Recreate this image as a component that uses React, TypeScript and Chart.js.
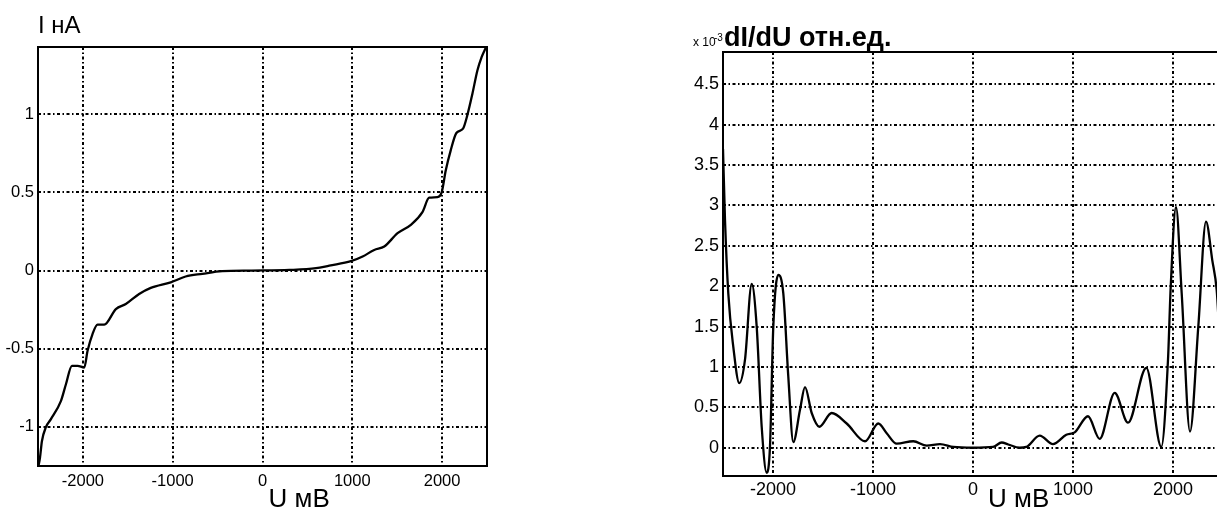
import React, { useEffect, useRef } from 'react';
import { Chart, registerables } from 'chart.js';

Chart.register(...registerables);

// I–V curve (U in mV, I in nA)
const ivU = [-2495, -2478, -2456, -2411, -2356, -2244, -2189, -2122, -2059, -1985, -1948, -1893, -1837, -1763, -1633, -1522, -1374, -1244, -1022, -856, -670, -448, -120, 300, 596, 744, 985, 1115, 1244, 1356, 1504, 1652, 1781, 1856, 1948, 1996, 2041, 2096, 2159, 2233, 2281, 2337, 2393, 2441, 2490];
const ivI = [-1.25, -1.197, -1.09, -1.0, -0.95, -0.833, -0.727, -0.609, -0.609, -0.62, -0.513, -0.406, -0.346, -0.346, -0.246, -0.214, -0.15, -0.111, -0.075, -0.038, -0.021, -0.004, 0, 0.004, 0.015, 0.032, 0.06, 0.09, 0.132, 0.154, 0.239, 0.293, 0.374, 0.466, 0.47, 0.502, 0.641, 0.769, 0.88, 0.908, 0.994, 1.13, 1.28, 1.367, 1.43];

// dI/dU curve (x10^-3, rel. units)
const didvU = [-2500, -2480, -2447, -2397, -2337, -2280, -2213, -2163, -2113, -2063, -2030, -1997, -1947, -1897, -1847, -1797, -1730, -1680, -1613, -1537, -1413, -1263, -1080, -947, -863, -763, -597, -463, -330, -197, 0, 200, 287, 353, 467, 533, 667, 800, 933, 1017, 1150, 1267, 1417, 1550, 1733, 1883, 1950, 1977, 2030, 2087, 2170, 2253, 2330, 2393, 2437, 2470, 2500];
const didvD = [3.7, 2.82, 1.91, 1.25, 0.8, 1.09, 2.03, 1.5, 0.26, -0.31, 0.02, 1.5, 2.14, 1.91, 0.88, 0.07, 0.47, 0.75, 0.43, 0.26, 0.43, 0.3, 0.08, 0.3, 0.18, 0.05, 0.08, 0.025, 0.045, 0.01, 0.0, 0.01, 0.065, 0.04, 0.0, 0.01, 0.15, 0.045, 0.16, 0.19, 0.39, 0.11, 0.68, 0.31, 0.99, 0.01, 1.09, 1.99, 2.98, 1.91, 0.2, 1.5, 2.8, 2.32, 1.95, 1.3, 1.0];

const xTicks = [-2000, -1000, 0, 1000, 2000];
const ivYTicks = [-1, -0.5, 0, 0.5, 1];
const didvYTicks = [0, 0.5, 1, 1.5, 2, 2.5, 3, 3.5, 4, 4.5];

const FONT = "'Liberation Sans', Arial, Helvetica, sans-serif";
const GRID_DASH = [3, 2.5, 1.5, 2.5];

type DrawFn = (ctx: CanvasRenderingContext2D, a: any, chart: any) => void;

interface PanelProps {
  left: number;
  width: number;
  height: number;
  xs: number[];
  ys: number[];
  yMin: number;
  yMax: number;
  yTicks: number[];
  padTop: number;
  padRight: number;
  yWidth: number;
  xHeight: number;
  tickSize: number;
  xTickPad: number;
  yTickPad: number;
  draw: DrawFn;
}

function Panel(p: PanelProps) {
  const ref = useRef<HTMLCanvasElement | null>(null);
  useEffect(() => {
    if (!ref.current) return;
    const points = p.xs.map((x, i) => ({ x, y: p.ys[i] }));
    const decor = {
      id: 'decor',
      afterDraw(chart: any) {
        const { ctx, chartArea: a } = chart;
        ctx.save();
        ctx.strokeStyle = '#000';
        ctx.lineWidth = 2;
        ctx.setLineDash([]);
        ctx.strokeRect(a.left, a.top, a.right - a.left, a.bottom - a.top);
        ctx.fillStyle = '#000';
        ctx.textBaseline = 'alphabetic';
        ctx.textAlign = 'left';
        p.draw(ctx, a, chart);
        ctx.restore();
      },
    };
    const chart = new Chart(ref.current, {
      type: 'line',
      data: {
        datasets: [
          {
            data: points,
            borderColor: '#000',
            borderWidth: 2.3,
            pointRadius: 0,
            cubicInterpolationMode: 'monotone',
            fill: false,
          },
        ],
      },
      options: {
        animation: false,
        responsive: false,
        events: [],
        layout: { padding: { left: 0, top: p.padTop, right: p.padRight, bottom: 0 } },
        plugins: { legend: { display: false }, tooltip: { enabled: false }, title: { display: false } },
        scales: {
          x: {
            type: 'linear',
            min: -2500,
            max: 2500,
            afterBuildTicks: (s: any) => {
              s.ticks = xTicks.map((v) => ({ value: v }));
            },
            afterFit: (s: any) => {
              s.height = p.xHeight;
            },
            ticks: {
              color: '#000',
              font: { family: FONT, size: p.tickSize },
              padding: p.xTickPad,
              maxRotation: 0,
              autoSkip: false,
              callback: (v: any) => String(v),
            },
            grid: { color: '#000', lineWidth: 2, drawTicks: false },
            border: { display: false, dash: GRID_DASH },
          },
          y: {
            type: 'linear',
            min: p.yMin,
            max: p.yMax,
            afterBuildTicks: (s: any) => {
              s.ticks = p.yTicks.map((v) => ({ value: v }));
            },
            afterFit: (s: any) => {
              s.width = p.yWidth;
            },
            ticks: {
              color: '#000',
              font: { family: FONT, size: p.tickSize },
              padding: p.yTickPad,
              autoSkip: false,
              callback: (v: any) => String(v),
            },
            grid: { color: '#000', lineWidth: 2, drawTicks: false },
            border: { display: false, dash: GRID_DASH },
          },
        },
      },
      plugins: [decor],
    } as any);
    return () => chart.destroy();
  }, []);
  return (
    <canvas
      ref={ref}
      width={p.width}
      height={p.height}
      style={{ position: 'absolute', left: p.left, top: 0, width: p.width, height: p.height }}
    />
  );
}

const drawLeft: DrawFn = (ctx, a, chart) => {
  ctx.font = `24px ${FONT}`;
  ctx.fillText('I нА', a.left, 33);
  const x0 = chart.scales.x.getPixelForValue(0);
  ctx.font = `26px ${FONT}`;
  ctx.fillText('U мВ', x0 + 6, 507);
};

const drawRight: DrawFn = (ctx, a, chart) => {
  ctx.font = `12px ${FONT}`;
  ctx.fillText('x 10', a.left - 30, 46);
  ctx.font = `10px ${FONT}`;
  ctx.fillText('-3', a.left - 9, 41);
  ctx.font = `bold 27px ${FONT}`;
  ctx.fillText('dI/dU отн.ед.', a.left + 1, 46);
  const x0 = chart.scales.x.getPixelForValue(0);
  ctx.font = `26px ${FONT}`;
  ctx.fillText('U мВ', x0 + 15, 507);
};

export default function App() {
  return (
    <div
      style={{
        position: 'fixed',
        left: 0,
        top: 0,
        width: 1217,
        height: 510,
        overflow: 'hidden',
        background: '#fff',
      }}
    >
      <Panel
        left={0}
        width={560}
        height={510}
        xs={ivU}
        ys={ivI}
        yMin={-1.25}
        yMax={1.43}
        yTicks={ivYTicks}
        padTop={47}
        padRight={73}
        yWidth={38}
        xHeight={44}
        tickSize={16.5}
        xTickPad={6}
        yTickPad={4}
        draw={drawLeft}
      />
      <Panel
        left={620}
        width={640}
        height={510}
        xs={didvU}
        ys={didvD}
        yMin={-0.35}
        yMax={4.9}
        yTicks={didvYTicks}
        padTop={52}
        padRight={37}
        yWidth={103}
        xHeight={34}
        tickSize={18}
        xTickPad={3}
        yTickPad={4}
        draw={drawRight}
      />
    </div>
  );
}
